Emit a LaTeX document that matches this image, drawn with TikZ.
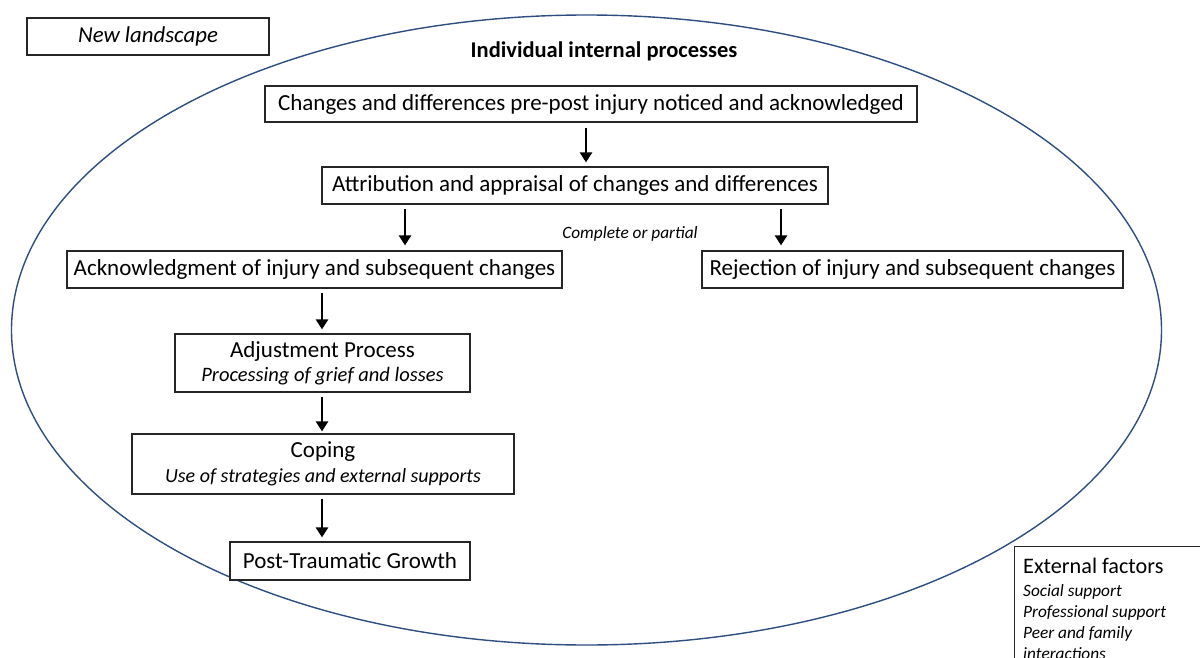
\documentclass[tikz,border=0pt]{standalone}
\usepackage{fontspec}
\setmainfont{Carlito}
\usetikzlibrary{arrows.meta}
\definecolor{ringblue}{HTML}{2F4E80}
\tikzset{
  box/.style={draw=black!85, line width=1.2pt, fill=white, inner sep=2pt, align=center, font=\fontsize{23}{27}\selectfont},
  arr/.style={line width=2.8pt, -{Triangle[length=10pt,width=12pt]}},
}
\begin{document}
\begin{tikzpicture}[x=1pt,y=-1pt]
\useasboundingbox (0,0) rectangle (1200,658);
\fill[white] (0,0) rectangle (1200,658);

% enclosing ellipse of the individual processes
\draw[ringblue, line width=1.4pt] (586.5,330) ellipse [x radius=575, y radius=315];

\node[box, minimum width=242pt, minimum height=37pt, font=\fontsize{22.8}{27}\selectfont\itshape] (land) at (148,36.5) {New landscape};
\node[font=\fontsize{22.5}{26}\selectfont\bfseries] (title) at (604,51) {Individual internal processes};

\node[box, minimum width=652pt, minimum height=36pt] (b1) at (591,104) {Changes and differences pre-post injury noticed and acknowledged};
\node[box, minimum width=506pt, minimum height=37pt] (b2) at (575,185.5) {Attribution and appraisal of changes and differences};
\node[box, minimum width=495pt, minimum height=37pt] (b3l) at (314.5,269.5) {Acknowledgment of injury and subsequent changes};
\node[box, minimum width=421pt, minimum height=37pt] (b3r) at (912.5,269.5) {Rejection of injury and subsequent changes};
\node[font=\fontsize{17.3}{20}\selectfont\itshape] (part) at (630,234) {Complete or partial};
\node[box, minimum width=295pt, minimum height=58pt] (adj) at (322.5,363) {Adjustment Process\\[-3pt]{\fontsize{20.5}{24}\selectfont\itshape Processing of grief and losses}};
\node[box, minimum width=382pt, minimum height=60pt] (cop) at (323,464) {Coping\\[-2pt]{\fontsize{20}{24}\selectfont\itshape Use of strategies and external supports}};
\node[box, minimum width=240pt, minimum height=38pt] (ptg) at (350,561) {Post-Traumatic Growth};

% external factors panel, running past the lower right corner
\node[box, anchor=north west, minimum width=200pt, minimum height=130pt] (ext) at (1014,546) {};
\node[anchor=north west, align=left, inner sep=0pt, font=\fontsize{17.3}{21}\selectfont\itshape] (extt) at ([xshift=9pt,yshift=-12pt]ext.north west)
  {{\upshape\fontsize{22.2}{24}\selectfont External factors}\\[2pt]
   Social support\\ Professional support\\ Peer and family\\ interactions};

% flow arrows
\draw[arr, shorten <=5pt, shorten >=4pt] ([xshift=-5pt]b1.south) -- ([xshift=11pt]b2.north);
\draw[arr, shorten <=4pt, shorten >=5pt] ([xshift=-170pt]b2.south) -- ([xshift=90.5pt]b3l.north);
\draw[arr, shorten <=4pt, shorten >=5pt] ([xshift=206pt]b2.south) -- ([xshift=-131.5pt]b3r.north);
\draw[arr, shorten <=4pt, shorten >=4pt] ([xshift=7.5pt]b3l.south) -- ([xshift=-0.5pt]adj.north);
\draw[arr, shorten <=4pt, shorten >=2pt] ([xshift=-0.5pt]adj.south) -- ([xshift=-1pt]cop.north);
\draw[arr, shorten <=4pt, shorten >=4pt] ([xshift=-1pt]cop.south) -- ([xshift=-28pt]ptg.north);
\end{tikzpicture}
\end{document}
